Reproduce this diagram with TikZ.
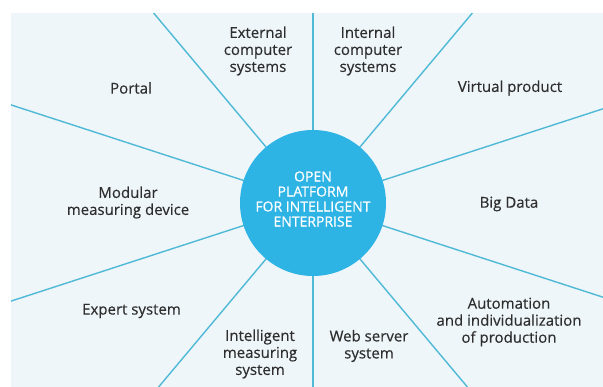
\documentclass[tikz,border=0pt]{standalone}
\usepackage{fontspec}
\setmainfont{Open Sans}
\newfontfamily\lblfont[FakeBold=0.35]{Open Sans}
\newfontfamily\hubfont[FakeBold=0.6]{Open Sans}
\definecolor{panel}{HTML}{EEF6FA}
\definecolor{spoke}{HTML}{4FB9D6}
\definecolor{hub}{HTML}{2DB3E4}
\definecolor{txt}{HTML}{2E2E2E}
\begin{document}
\begin{tikzpicture}[x=1pt,y=-1pt,
  lbl/.style={align=center,font=\lblfont\fontsize{15}{17}\selectfont,text=txt,inner sep=0pt},
  spokeline/.style={draw=spoke,line width=1.4pt},
  hubstyle/.style={circle,minimum size=146pt,fill=hub,inner sep=0pt},
  hubtext/.style={text=white,align=center,inner sep=0pt,font=\hubfont\fontsize{14}{15}\selectfont}]
\useasboundingbox (0,0) rectangle (603,387);
\fill[panel] (11,13) rectangle (603,387);
\coordinate (c) at (313,203);
\coordinate (eT) at (313,13);
\coordinate (eB) at (313,387);
\coordinate (eTR) at (472.4,13);
\coordinate (eTL) at (153.6,13);
\coordinate (eBR) at (467.4,387);
\coordinate (eBL) at (158.6,387);
\coordinate (eRU) at (603,108.8);
\coordinate (eRD) at (603,297.2);
\coordinate (eLU) at (11,104.9);
\coordinate (eLD) at (11,301.1);
\foreach \e in {eT,eB,eTR,eTL,eBR,eBL,eRU,eRD,eLU,eLD}
  \draw[spokeline] (c) -- (\e);
\node[hubstyle] (hubnode) at (c) {};
\node[hubtext] (hublabel) at (313,199) {OPEN\\PLATFORM\\FOR INTELLIGENT\\ENTERPRISE};
\node[lbl] (ext) at (258,51) {External\\computer\\systems};
\node[lbl] (int) at (368,51) {Internal\\computer\\systems};
\node[lbl] (portal) at (131,88) {Portal};
\node[lbl] (virt) at (510,88) {Virtual product};
\node[lbl] (mod) at (128,202.5) {Modular\\measuring device};
\node[lbl] (big) at (509,204) {Big Data};
\node[lbl] (exp) at (131.5,311) {Expert system};
\node[lbl] (auto) at (509,322) {Automation\\and individualization\\of production};
\node[lbl] (intel) at (260,354) {Intelligent\\measuring\\system};
\node[lbl] (web) at (369,346) {Web server\\system};
\end{tikzpicture}
\end{document}
